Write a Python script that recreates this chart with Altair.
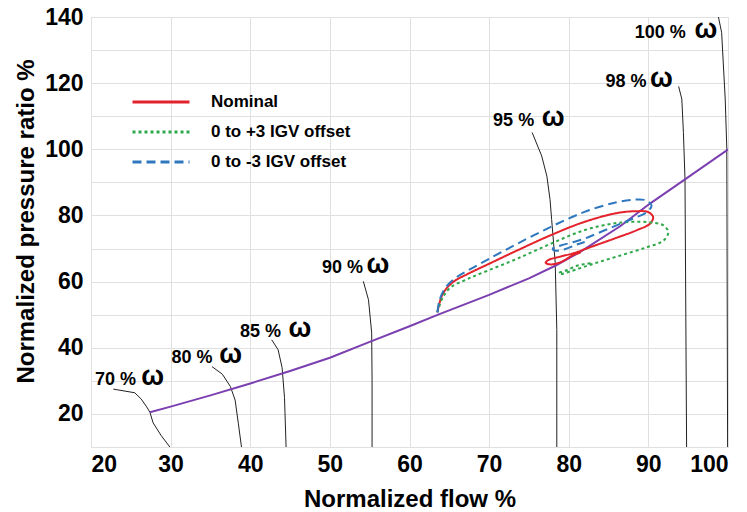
import altair as alt
import pandas as pd

# ---------------- data ----------------
x_ticks = [20, 30, 40, 50, 60, 70, 80, 90, 100]
y_ticks = [20, 40, 60, 80, 100, 120, 140]
y_grid = [10, 20, 30, 40, 50, 60, 70, 80, 90, 100, 110, 120, 130, 140]

surge_x = [27.4, 30, 35, 40, 45, 50, 55, 60, 63.6, 70, 75, 78.3, 81.4, 86.5, 90.2, 94.6, 100.5]
surge_y = [20.5, 22.2, 25.6, 29.2, 33.0, 37.0, 41.8, 46.5, 50.0, 56.0, 61.0, 64.8, 68.9, 76.8, 83.6, 90.9, 100.8]

nominal_x = [63.5, 64.0, 64.6, 65.6, 67.3, 70.0, 73.5, 77.9, 81.9, 86.0, 88.5, 90.0, 90.6, 90.2,
             88.5, 85.6, 82.7, 80.6, 79.0, 77.5, 77.1, 77.7, 79.0, 80.6, 81.5]
nominal_y = [50.7, 55.3, 57.8, 60.1, 62.3, 65.4, 69.4, 74.2, 78.0, 80.7, 81.3, 81.0, 79.5, 77.5,
             75.5, 72.9, 70.4, 68.6, 67.6, 66.6, 65.7, 65.2, 65.9, 68.1, 68.8]

plus3_x = [63.5, 64.2, 65.2, 67.3, 70.0, 73.5, 77.7, 81.9, 86.0, 89.8, 91.9, 92.5, 91.9, 89.8,
           86.5, 83.1, 80.2, 79.0, 78.75, 79.8, 81.0, 82.0, 83.1]
plus3_y = [50.7, 55.3, 58.3, 60.8, 63.5, 66.9, 71.4, 75.5, 77.7, 78.0, 77.0, 74.9, 72.4, 70.4,
           67.9, 65.4, 63.1, 62.3, 62.6, 63.5, 64.8, 65.3, 65.6]

minus3_x = [63.5, 63.75, 64.4, 65.6, 67.3, 70.0, 73.5, 77.7, 81.9, 86.0, 88.5, 89.8, 90.4,
            89.8, 88.0, 86.0, 84.0, 82.0, 80.5, 79.0, 78.0, 78.2, 79.5, 81.0, 82.0]
minus3_y = [50.7, 54.2, 57.8, 60.8, 63.3, 66.9, 71.4, 76.5, 81.0, 84.0, 84.8, 84.5, 83.0,
            81.0, 79.0, 77.0, 75.0, 73.0, 71.9, 70.9, 70.0, 69.4, 69.8, 71.2, 72.0]

series_names = ["Nominal", "0 to +3 IGV offset", "0 to -3 IGV offset"]

speed_labels = ["70 %", "80 %", "85 %", "90 %", "95 %", "98 %", "100 %"]
speed_x = [
    [22.8, 25.5, 26.3, 27.0, 27.4, 27.8, 28.8, 29.9],
    [35.2, 36.5, 37.5, 38.1, 38.5, 38.9],
    [42.7, 43.5, 44.0, 44.3, 44.5],
    [54.2, 54.85, 55.25, 55.3, 55.3],
    [75.4, 76.6, 77.25, 77.65, 77.85, 78.3, 78.5, 78.5],
    [93.8, 94.2, 94.4, 94.6, 94.8],
    [98.8, 99.2, 99.65, 99.85, 99.95],
]
speed_y = [
    [27.5, 26.4, 24.5, 22.1, 20.5, 17.3, 13.5, 10.0],
    [34.3, 32.0, 28.3, 24.2, 17.2, 10.0],
    [42.4, 39.4, 34.0, 25.0, 10.0],
    [60.1, 54.5, 44.5, 30.0, 10.0],
    [105.1, 98.0, 91.9, 84.8, 78.8, 65.7, 45.5, 10.0],
    [119.0, 115.2, 105.1, 90.9, 10.0],
    [140.0, 135.3, 115.2, 100.3, 10.0],
]
label_x = [20.5, 30.1, 38.7, 49.0, 70.5, 84.6, 88.3]
label_y = [28.8, 35.4, 43.4, 62.6, 107.1, 118.7, 133.8]
omega_x = [26.3, 36.1, 44.8, 54.6, 76.6, 90.2, 95.8]

# ---------------- tables ----------------
surge_df = pd.DataFrame({"x": surge_x, "y": surge_y, "i": range(len(surge_x))})

rows = []
for name, xs, ys in zip(series_names, [nominal_x, plus3_x, minus3_x], [nominal_y, plus3_y, minus3_y]):
    for i, (a, b) in enumerate(zip(xs, ys)):
        rows.append({"x": a, "y": b, "i": i, "series": name})
loops_df = pd.DataFrame(rows)

srows = []
for lab, xs, ys in zip(speed_labels, speed_x, speed_y):
    for i, (a, b) in enumerate(zip(xs, ys)):
        srows.append({"x": a, "y": b, "i": i, "speed": lab})
speed_df = pd.DataFrame(srows)

label_df = pd.DataFrame({"x": label_x, "y": label_y, "ox": omega_x, "text": speed_labels})
grid_df = pd.DataFrame({"y": y_grid})

FONT = "Liberation Sans"
GRID = "#e0e0e0"

xscale = alt.Scale(domain=[20, 100], nice=False, zero=False)
yscale = alt.Scale(domain=[10, 140], nice=False, zero=False)

x_axis = alt.Axis(values=x_ticks, grid=True, gridColor=GRID, ticks=False,
                  domainColor=GRID, labelFont=FONT, labelFontWeight="bold",
                  labelFontSize=23, labelColor="black", labelPadding=6,
                  title="Normalized flow %", titleFont=FONT, titleFontWeight="bold",
                  titleFontSize=24, titleColor="black", titleBaseline="alphabetic",
                  titleY=59)
y_axis = alt.Axis(values=y_ticks, grid=False, ticks=False, orient="left",
                  domainColor=GRID, labelFont=FONT, labelFontWeight="bold",
                  labelFontSize=23, labelColor="black", labelPadding=8,
                  title="Normalized pressure ratio %", titleFont=FONT, titleFontWeight="bold",
                  titleFontSize=24, titleColor="black", titleBaseline="alphabetic",
                  titleAngle=270, titleAlign="center", titleX=-58, titleY=204)
y_grid_axis = alt.Axis(values=y_grid, grid=True, gridColor=GRID, ticks=False, labels=False,
                       domain=False, title=None, orient="right")

X = alt.X("x:Q", scale=xscale, axis=x_axis)
Y = alt.Y("y:Q", scale=yscale, axis=y_axis)
Xn = alt.X("x:Q", scale=xscale)
Yn = alt.Y("y:Q", scale=yscale)

grid_layer = alt.Chart(grid_df).mark_rule(opacity=0).encode(
    y=alt.Y("y:Q", scale=yscale, axis=y_grid_axis))

speed_layer = alt.Chart(speed_df).mark_line(color="#222222", strokeWidth=1, clip=True).encode(
    x=X, y=Y, detail="speed:N", order="i:Q")

surge_layer = alt.Chart(surge_df).mark_line(color="#7b3fb0", strokeWidth=2, clip=True).encode(
    x=Xn, y=Yn, order="i:Q")

loops_layer = alt.Chart(loops_df).mark_line(strokeWidth=2, interpolate="catmull-rom").encode(
    x=Xn, y=Yn, order="i:Q",
    color=alt.Color("series:N", sort=series_names,
                    scale=alt.Scale(domain=series_names, range=["#e3222b", "#2ea84a", "#2f78c0"]),
                    legend=alt.Legend(orient="none", legendX=40, legendY=75, title=None,
                                      symbolType="stroke", symbolSize=3249, symbolStrokeWidth=3,
                                      labelFont=FONT, labelFontWeight="bold", labelFontSize=17,
                                      labelColor="black", clipHeight=20, rowPadding=10,
                                      labelOffset=20, padding=0)),
    strokeDash=alt.StrokeDash("series:N", sort=series_names,
                              scale=alt.Scale(domain=series_names, range=[[1, 0], [3, 3], [9, 5]]),
                              legend=None),
)

text_layer = alt.Chart(label_df).mark_text(align="left", baseline="alphabetic", font=FONT,
                                           fontWeight="bold", fontSize=18, color="black").encode(
    x=Xn, y=Yn, text="text:N")
omega_layer = alt.Chart(label_df).mark_text(align="left", baseline="alphabetic", font=FONT,
                                            fontWeight="bold", fontSize=27, color="black").encode(
    x=alt.X("ox:Q", scale=xscale), y=Yn, text=alt.value("ω"))

main = alt.layer(speed_layer, surge_layer, loops_layer, text_layer, omega_layer)

chart = alt.layer(grid_layer, main).resolve_axis(y="independent").properties(
    width=637, height=430,
    autosize=alt.AutoSizeParams(type="none"),
    padding={"left": 91, "top": 17, "right": 19, "bottom": 65},
).configure_view(stroke=None).configure(background="white")

chart.save("out.html", embed_options={"renderer": "svg", "actions": False})
